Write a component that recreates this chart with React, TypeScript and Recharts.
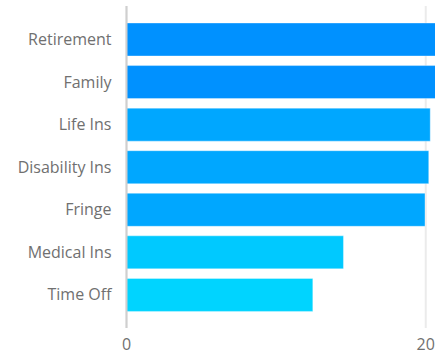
import React from "react";
import { Bar, BarChart, CartesianGrid, Cell, XAxis, YAxis } from "recharts";

const categories = ["Retirement", "Family", "Life Ins", "Disability Ins", "Fringe", "Medical Ins", "Time Off"];
const values = [22.6, 21.8, 20.3, 20.2, 19.95, 14.5, 12.45];
const colors = ["#0091ff", "#0091ff", "#00a7ff", "#00a7ff", "#00a7ff", "#00c9ff", "#00d4ff"];
const xTicks = [0, 20, 40];

const FONT = "'Open Sans', 'Noto Sans', sans-serif";
const TICK = { fill: "#707070", fontSize: 16, fontFamily: FONT };

export default function App() {
  const rows = categories.map((name, i) => ({ name, value: values[i] }));
  return (
    <div style={{ position: "absolute", left: 0, top: 0, width: 435, height: 358, overflow: "hidden" }}>
      <BarChart
        width={730}
        height={358}
        data={rows}
        layout="vertical"
        margin={{ top: 6, right: 5, left: 0, bottom: 0 }}
      >
        <CartesianGrid stroke="#ebebeb" strokeWidth={2} horizontal={false} />
        <XAxis
          type="number"
          domain={[0, 40]}
          ticks={xTicks}
          axisLine={false}
          tickLine={false}
          tickSize={0}
          tickMargin={11}
          height={30}
          tick={TICK}
        />
        <YAxis
          type="category"
          dataKey="name"
          width={126.5}
          padding={{ top: 12, bottom: 12 }}
          axisLine={{ stroke: "#cfcfcf", strokeWidth: 2 }}
          tickLine={false}
          tickSize={0}
          tickMargin={15}
          tick={TICK}
        />
        <Bar dataKey="value" barSize={33} isAnimationActive={false} stroke="rgba(255,255,255,0.35)" strokeWidth={1}>
          {rows.map((_, i) => (
            <Cell key={i} fill={colors[i]} />
          ))}
        </Bar>
      </BarChart>
    </div>
  );
}
